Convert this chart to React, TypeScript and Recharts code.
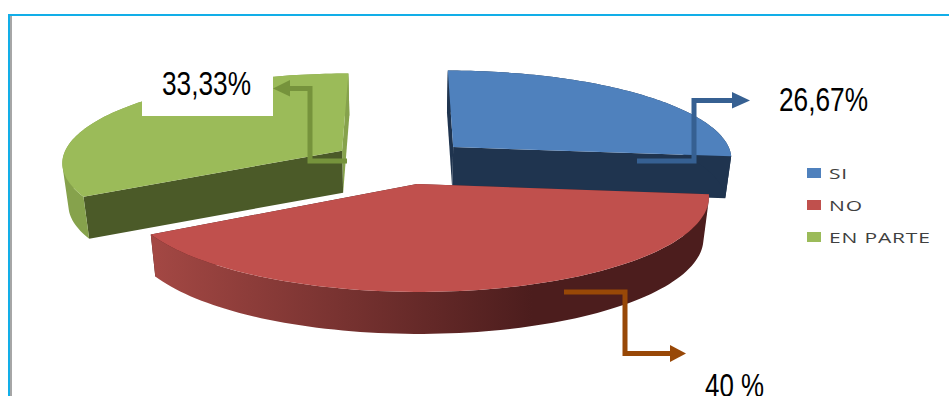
import React from "react";
import { PieChart, Pie, Legend } from "recharts";

// Answer shares, in percent
const categories = ["SI", "NO", "EN PARTE"];
const shares = [26.67, 40, 33.33];
const topColors = ["#4f81bd", "#c0504d", "#9bbb59"];
const rimColors = ["#1f344f", "url(#redRim)", "#86a24c"];
const cutColors = ["#1f344f", "#4c1d1d", "#4b5a28"];

const slices = categories.map((name, i) => ({
  name,
  value: shares[i],
  fill: topColors[i],
  rim: rimColors[i],
  cut: cutColors[i],
}));

// Oblique view of the pie plane
const ORIGIN_X = 402;
const ORIGIN_Y = 161.7;
const RADIUS_X = 281;
const RADIUS_Y = 89;
const PERSPECTIVE = 0.12;
const EXPLODE = 0.25;
const DEPTH = 42;
const BASE_SHRINK = 0.982;

const project = (gx: number, gy: number, lowered: boolean) => {
  const k = 1 / (1 - PERSPECTIVE * gy);
  const x = ORIGIN_X + gx * RADIUS_X * k;
  const y = ORIGIN_Y + gy * RADIUS_Y * k;
  return lowered ? [ORIGIN_X + (x - ORIGIN_X) * BASE_SHRINK, y + DEPTH] : [x, y];
};

const toPath = (pts: number[][]) =>
  "M" + pts.map((p) => `${p[0].toFixed(2)} ${p[1].toFixed(2)}`).join("L") + "Z";

const signedArea = (pts: number[][]) =>
  pts.reduce((sum, p, i) => {
    const q = pts[(i + 1) % pts.length];
    return sum + p[0] * q[1] - q[0] * p[1];
  }, 0);

// Outer wall as a union of small quads, all wound the same way so the fill never cancels
const wallPath = (upper: number[][], lower: number[][]) =>
  upper
    .slice(0, -1)
    .map((p, i) => {
      const quad = [p, upper[i + 1], lower[i + 1], lower[i]];
      return toPath(signedArea(quad) < 0 ? [...quad].reverse() : quad);
    })
    .join("");

// Draws one pie sector as an extruded wedge, using the angles the Pie computed
function Wedge(props: any) {
  const { startAngle, endAngle, midAngle, fill } = props;
  const entry = slices.find((s) => s.name === props.name) ?? slices[0];
  const clockwise = (a: number) => ((90 - a) * Math.PI) / 180;
  const a0 = clockwise(startAngle);
  const a1 = clockwise(endAngle);
  const am = clockwise(midAngle);
  const ax = EXPLODE * Math.sin(am);
  const ay = -EXPLODE * Math.cos(am);
  const rimPoint = (t: number, lowered: boolean) =>
    project(ax + Math.sin(t), ay - Math.cos(t), lowered);

  const steps = 90;
  const angles = Array.from({ length: steps + 1 }, (_, i) => a0 + ((a1 - a0) * i) / steps);
  const upper = angles.map((t) => rimPoint(t, false));
  const lower = angles.map((t) => rimPoint(t, true));
  const apexTop = project(ax, ay, false);
  const apexBase = project(ax, ay, true);

  const startFace = [apexTop, upper[0], lower[0], apexBase];
  const endFace = [apexTop, upper[steps], lower[steps], apexBase];
  // The straight face turned toward the viewer goes last and takes the dark shade
  const [backFace, frontFace] = upper[0][1] > upper[steps][1] ? [endFace, startFace] : [startFace, endFace];

  return (
    <g>
      <path d={toPath(backFace)} fill={entry.rim} />
      <path d={toPath(frontFace)} fill={entry.cut} />
      <path d={wallPath(upper, lower)} fill={entry.rim} />
      <path d={toPath([apexTop, ...upper])} fill={fill} />
    </g>
  );
}

function Callout({ d, tip, color }: { d: string; tip: string; color: string }) {
  return (
    <g>
      <path d={d} fill="none" stroke={color} strokeWidth={5} />
      <polygon points={tip} fill={color} />
    </g>
  );
}

const numberFont = { fontFamily: "'Liberation Sans', sans-serif", fontSize: 33, fill: "#000", lengthAdjust: "spacingAndGlyphs" as const };

function LegendList({ payload }: any) {
  return (
    <div>
      {(payload ?? []).map((item: any) => (
        <div key={item.value} style={{ display: "flex", alignItems: "center", height: 32 }}>
          <span style={{ width: 14, height: 10, background: item.color, marginRight: 8 }} />
          <span
            style={{
              fontFamily: "'Open Sans', sans-serif",
              fontSize: 15,
              letterSpacing: 0.6,
              color: "#404040",
              whiteSpace: "nowrap",
              transform: "scaleX(1.4)",
              transformOrigin: "left center",
            }}
          >
            {item.value}
          </span>
        </div>
      ))}
    </div>
  );
}

export default function App() {
  return (
    <div style={{ position: "absolute", left: 0, top: 0, width: 949, height: 396, overflow: "hidden", background: "#fff" }}>
      <div style={{ position: "absolute", left: 8, top: 14, width: 941, height: 2, background: "#12aee8" }} />
      <div style={{ position: "absolute", left: 8, top: 14, width: 2, height: 382, background: "#12aee8" }} />
      <div style={{ position: "absolute", left: 10, top: 16, width: 2, height: 380, background: "#a6a6a6" }} />
      <div style={{ position: "absolute", left: 0, top: 0 }}>
        <PieChart width={949} height={396} margin={{ top: 0, right: 0, bottom: 0, left: 0 }}>
          <defs>
            <linearGradient id="redRim" gradientUnits="userSpaceOnUse" x1={150} y1={0} x2={532} y2={0}>
              <stop offset="0" stopColor="#a44844" />
              <stop offset="1" stopColor="#4c1d1d" />
            </linearGradient>
          </defs>
          <Pie
            data={slices}
            dataKey="value"
            nameKey="name"
            cx={402}
            cy={162}
            outerRadius={150}
            startAngle={90}
            endAngle={-270}
            stroke="none"
            shape={Wedge}
            isAnimationActive={false}
          />
          <Legend
            content={<LegendList />}
            itemSorter={null}
            wrapperStyle={{ position: "absolute", left: 807, top: 157, width: 140, height: 96, bottom: "auto" }}
          />
        </PieChart>
      </div>
      {/* Leader arrows and percentage labels sit above the pie */}
      <svg width={949} height={396} style={{ position: "absolute", left: 0, top: 0, pointerEvents: "none" }}>
        <rect x={142} y={70} width={131} height={46} fill="#fff" />
        <Callout d="M637 161H694V100.5H733" tip="732,92 750,100.5 732,108.5" color="#366092" />
        <Callout d="M347 161H310V88.5H289" tip="290,80 273,88.5 290,96.5" color="#76933c" />
        <Callout d="M564 292H625V353.5H671" tip="670,345 686,353.5 670,362" color="#984807" />
        <text x={779} y={111} textLength={89} {...numberFont}>26,67%</text>
        <text x={162} y={95} textLength={89} {...numberFont}>33,33%</text>
        <text x={705} y={397} textLength={59} {...numberFont}>40 %</text>
      </svg>
    </div>
  );
}
